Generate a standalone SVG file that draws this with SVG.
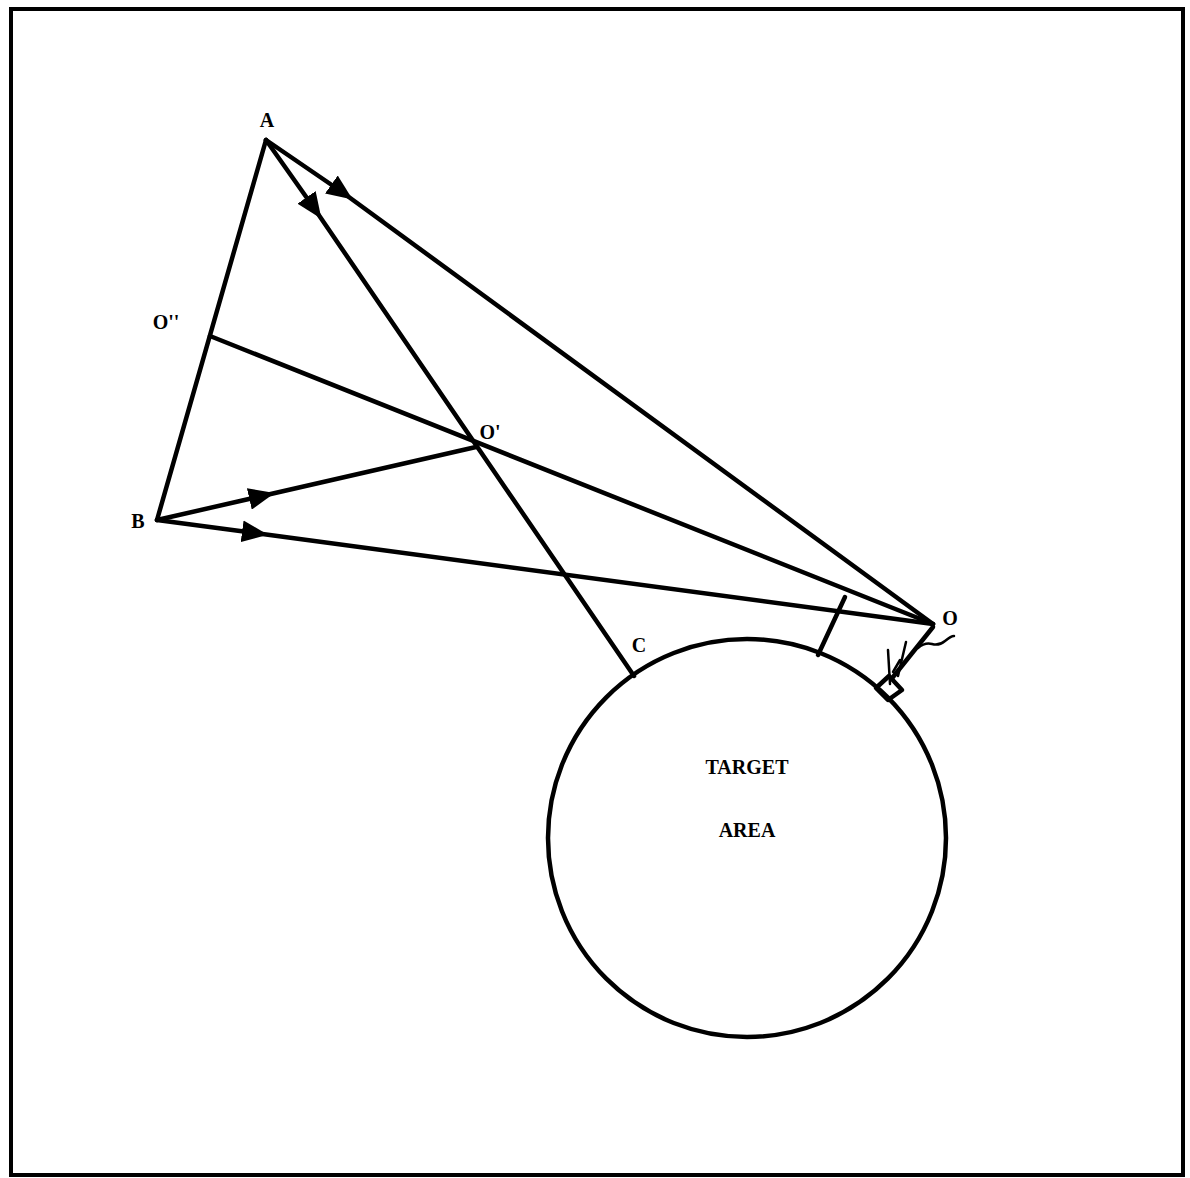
<svg xmlns="http://www.w3.org/2000/svg" width="1190" height="1178" viewBox="0 0 1190 1178">
<defs>
<style>
.ln{fill:none;stroke:#000;stroke-width:4.5;stroke-linecap:round;stroke-linejoin:round}
.thin{fill:none;stroke:#000;stroke-width:2.5;stroke-linecap:round;stroke-linejoin:round}
.lbl{font-family:"Liberation Serif","DejaVu Serif",serif;font-weight:bold;font-size:20px;fill:#000}
</style>
<marker id="arr" viewBox="0 0 26 22" refX="13" refY="11" markerWidth="26" markerHeight="22" markerUnits="userSpaceOnUse" orient="auto">
<path d="M0,0 L26,11 L0,22 Z" fill="#000"/>
</marker>
</defs>
<rect width="1190" height="1178" fill="#fff"/>
<rect x="11" y="9" width="1172" height="1166" fill="none" stroke="#000" stroke-width="4"/>
<g id="target">
<circle cx="747" cy="838" r="199" fill="none" stroke="#000" stroke-width="4.5"/>
<text class="lbl" x="747" y="774" text-anchor="middle">TARGET</text>
<text class="lbl" x="747" y="837" text-anchor="middle">AREA</text>
</g>
<g id="connectors">
<path class="ln" d="M266,140 L157,520"/>
<path class="ln" d="M266,140 L342,192 L933,624" marker-mid="url(#arr)"/>
<path class="ln" d="M266,140 L314,208 L634,676" marker-mid="url(#arr)"/>
<path class="ln" d="M210,336 L933,624"/>
<path class="ln" d="M157,520 L262,496 L476,447" marker-mid="url(#arr)"/>
<path class="ln" d="M157,520 L255,533 L933,624" marker-mid="url(#arr)"/>
<path class="ln" d="M845,597 L818,655"/>
<path class="ln" d="M933,627 L893,677"/>
<path class="thin" d="M918,648 q7,-6 14,-4 t13,-3 t9,-5"/>
<path class="thin" d="M888,650 L890,684"/>
<path class="thin" d="M906,642 L898,676 M900,660 L893,672"/>
<path class="ln" d="M889,676 L902,690 L888,700 L876,688 Z"/>
</g>
<g id="A"><text class="lbl" x="267" y="127" text-anchor="middle">A</text></g>
<g id="B"><text class="lbl" x="138" y="528" text-anchor="middle">B</text></g>
<g id="O2"><text class="lbl" x="166" y="329" text-anchor="middle">O''</text></g>
<g id="O1"><text class="lbl" x="490" y="439" text-anchor="middle">O'</text></g>
<g id="C"><text class="lbl" x="639" y="652" text-anchor="middle">C</text></g>
<g id="O"><text class="lbl" x="950" y="625" text-anchor="middle">O</text></g>
</svg>
